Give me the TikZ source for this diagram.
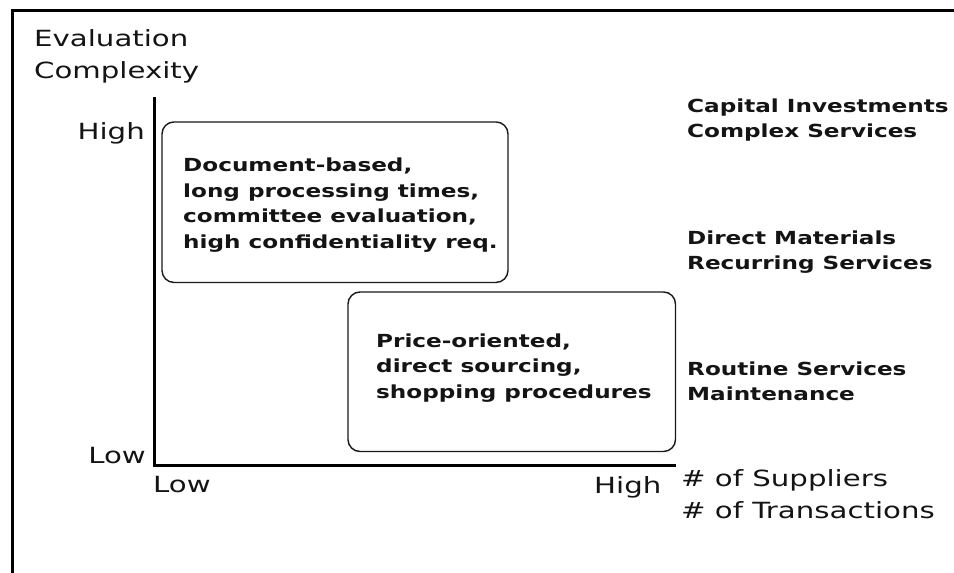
\documentclass[tikz,border=0pt]{standalone}
\usepackage{fontspec}
\newfontfamily\chartfont[FakeStretch=1.31]{DejaVu Sans}
\newfontfamily\chartbold[FakeStretch=1.285]{DejaVu Sans Bold}
\begin{document}
\begin{tikzpicture}[x=1pt, y=-1pt,
    frame/.style={line width=3pt, line join=miter, black},
    axis/.style={line width=3pt, line join=miter, black},
    area/.style={draw=black!90, line width=1.4pt, rounded corners=12pt, inner sep=0pt},
    axislabel/.style={inner sep=0pt, align=left, text=black!92,
        font=\chartfont\fontsize{22.3}{31.5}\selectfont},
    itemlabel/.style={inner sep=0pt, align=left, text=black!92,
        font=\chartbold\fontsize{18}{25.5}\selectfont}]
  \useasboundingbox (0,0) rectangle (954,573);
  \fill[white] (0,0) rectangle (954,573);

  % outer frame (left and top edges)
  \draw[frame] (12.5,573) -- (12.5,10.8) -- (954,10.8);

  % axes
  \coordinate (ytop) at (154,97);
  \coordinate (origin) at (154,465);
  \coordinate (xend) at (676,465);
  \draw[axis] (ytop) -- (origin) -- (xend);

  % axis titles and scale labels (base anchor = baseline of the last line)
  \node[axislabel, anchor=base west] (ytitle) at (34,78) {Evaluation\\Complexity};
  \node[axislabel, anchor=base east] (yhigh) at (145,139) {High};
  \node[axislabel, anchor=base east] (ylow) at (146,463) {Low};
  \node[axislabel, anchor=base west] (xlow) at (153,492) {Low};
  \node[axislabel, anchor=base west] (xhigh) at (594,493) {High};
  \node[axislabel, anchor=base west] (xtitle) at (681,518) {\# of Suppliers\\\# of Transactions};

  % regions
  \node[area, minimum width=346pt, minimum height=160.5pt] (upper) at (335,202.2) {};
  \node[area, minimum width=327.5pt, minimum height=159.5pt] (lower) at (511.75,371.75) {};
  \node[itemlabel, anchor=base west] (uppertext) at (183,248)
    {Document-based,\\long processing times,\\committee evaluation,\\high confidentiality req.};
  \node[itemlabel, anchor=base west] (lowertext) at (376,398)
    {Price-oriented,\\direct sourcing,\\shopping procedures};

  % purchase categories
  \node[itemlabel, anchor=base west] (capital) at (687,137.5) {Capital Investments\\Complex Services};
  \node[itemlabel, anchor=base west] (direct) at (687,269.5) {Direct Materials\\Recurring Services};
  \node[itemlabel, anchor=base west] (routine) at (687,400.5) {Routine Services\\Maintenance};
\end{tikzpicture}
\end{document}
